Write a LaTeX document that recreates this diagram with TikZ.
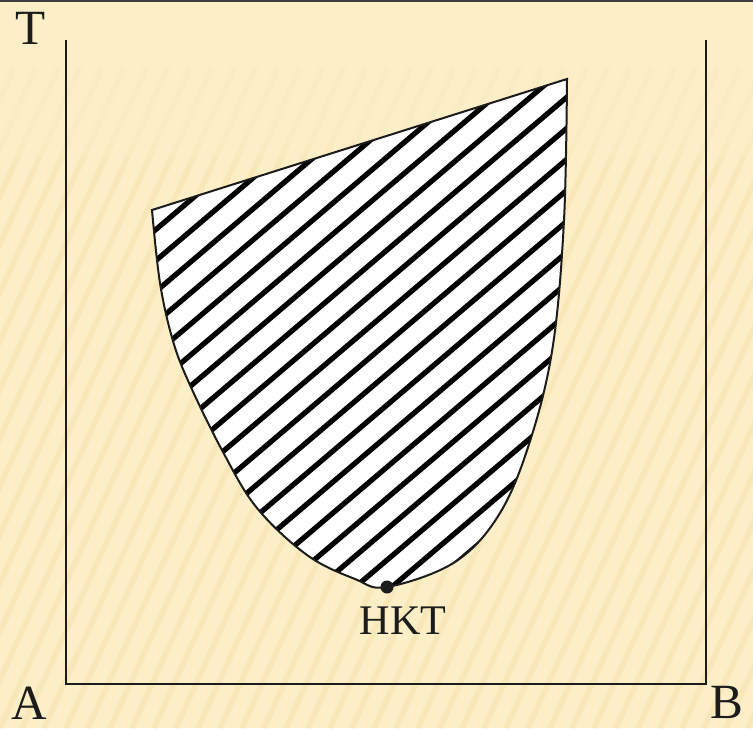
\documentclass[tikz,border=0pt]{standalone}
\usepackage{fontspec}
\setmainfont{Liberation Serif}
\usepackage{xcolor}
\usetikzlibrary{calc}
\definecolor{paper}{HTML}{FCEFC7}
\definecolor{paperline}{HTML}{F1DCA4}
\definecolor{ink}{HTML}{1C1C1C}
\tikzset{
  axis/.style={draw=ink, line width=0.4mm},
  region/.style={draw=ink, line width=0.4mm},
  hatchline/.style={draw=black, line width=1.05mm},
  lbl/.style={text=ink, inner sep=0pt, font=\fontsize{28}{30}\selectfont}
}

\begin{document}
\begin{tikzpicture}[
  x=0.2mm, y=-0.2mm,
  small/.style={text=ink, inner sep=0pt, font=\fontsize{24}{26}\selectfont},
  dot/.style={circle, fill=ink, inner sep=0pt, minimum size=2.6mm}
]
\useasboundingbox (0,0) rectangle (753,728);
% ---- background ----
\fill[paper] (0,0) rectangle (753,728);
\begin{scope}
\clip (0,0) rectangle (753,728);
\foreach \i in {-20,...,45}
  \draw[paperline, line width=1.1mm, opacity=0.4] (\i*22,728) -- ++(300,-660);
\foreach \k in {0,...,9}
  \fill[paper, opacity=0.3] (0,0) rectangle (753,{60+\k*12});
\end{scope}
\draw[ink!85, line width=0.45mm] (0,1) -- (753,1);
% ---- axes ----
\coordinate (o) at (66,684);
\coordinate (tt) at (66,40);
\coordinate (bb) at (706,684);
\coordinate (bt) at (706,40);
\draw[axis] (tt) -- (o) -- (bb) -- (bt);
\node[lbl] (T) at (31,28) {T};
\node[lbl] (A) at (29,703) {A};
\node[lbl] (B) at (727,702) {B};
% ---- region ----
\def\regionpath{(152,210) -- (567,79) -- plot[smooth, tension=0.6] coordinates {
  (567,79) (564,220) (553,345) (531,438) (500,513) (455,562) (387,587)
  (355,579) (307,555) (257,508) (223,452) (190,385) (173,341) (160,283)
  (152,210)} -- cycle}
\fill[white] \regionpath;
\begin{scope}
\clip \regionpath;
\foreach \i in {0,...,40}
  \draw[hatchline] (100,\i*31+60) -- ++(600,-510);
\end{scope}
\draw[region] \regionpath;
% ---- critical point ----
\node[dot] (K) at (387,587) {};
\node[small] (HKT) at (403,621) {HKT};
\end{tikzpicture}
\end{document}
